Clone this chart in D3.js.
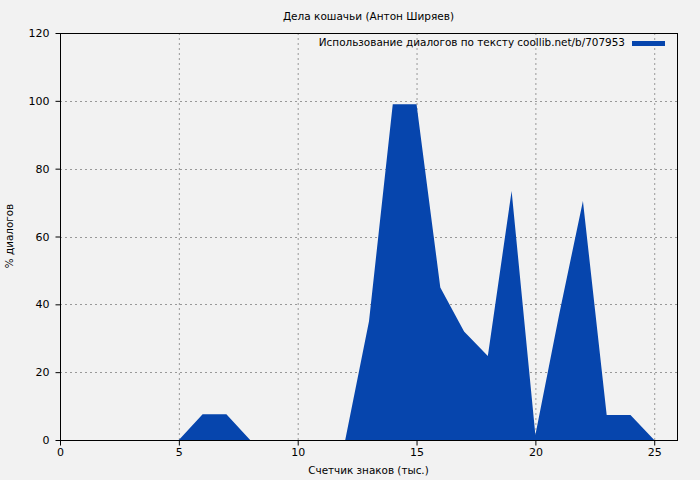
<!DOCTYPE html>
<html><head><meta charset="utf-8">
<script src="https://cdn.jsdelivr.net/npm/d3@7"></script>
<style>
body{margin:0;background:#f2f2f2;}
text{font-family:"DejaVu Sans",sans-serif;fill:#000;}
</style></head>
<body><svg id="c" width="700" height="480"></svg>
<script>
const xValues = [0,1,2,3,4,5,6,7,8,9,10,11,12,13,14,15,16,17,18,19,20,21,22,23,24,25];
const yValues = [0,0,0,0,0,0,7.6,7.6,0,0,0,0,0,35,99,99,45,32,24.8,73.4,1.5,37,70.5,7.4,7.4,0];
const xTicks = [0,5,10,15,20,25];
const yTicks = [0,20,40,60,80,100,120];
const title = "Дела кошачьи (Антон Ширяев)";
const xLabel = "Счетчик знаков (тыс.)";
const yLabel = "% диалогов";
const legendLabel = "Использование диалогов по тексту coollib.net/b/707953";

const W=700,H=480, L=60,R=678,T=33,B=440;
const svg=d3.select("#c");
svg.append("rect").attr("width",W).attr("height",H).attr("fill","#f2f2f2");
const x=d3.scaleLinear().domain([0,26]).range([L,R]);
const y=d3.scaleLinear().domain([0,120]).range([B,T]);

const g=svg.append("g");
// grid
g.selectAll(".gx").data(xTicks.filter(d=>d>0)).join("line")
 .attr("x1",d=>x(d)+0.5).attr("x2",d=>x(d)+0.5).attr("y1",T).attr("y2",B)
 .attr("stroke","#999").attr("stroke-dasharray","2,3");
g.selectAll(".gy").data(yTicks.filter(d=>d>0&&d<120)).join("line")
 .attr("y1",d=>Math.round(y(d))+0.5).attr("y2",d=>Math.round(y(d))+0.5).attr("x1",L).attr("x2",R)
 .attr("stroke","#999").attr("stroke-dasharray","2,3");

// area
const data=xValues.map((v,i)=>[v,yValues[i]]);
g.append("path").datum(data)
 .attr("d",d3.area().x(d=>x(d[0])).y0(y(0)).y1(d=>y(d[1])))
 .attr("fill","#0645ad");

// axes
const xa=svg.append("g").attr("transform",`translate(0,${B+0.5})`)
 .call(d3.axisBottom(x).tickValues(xTicks).tickSize(5).tickPadding(3).tickFormat(d3.format("d")));
const ya=svg.append("g").attr("transform",`translate(${L+0.5},0)`)
 .call(d3.axisLeft(y).tickValues(yTicks).tickSize(5).tickPadding(6).tickFormat(d3.format("d")));
[xa,ya].forEach(a=>{a.select(".domain").remove();a.selectAll("text").attr("font-size",11).attr("font-family","DejaVu Sans");a.selectAll("line").attr("stroke","#000");});

// frame
svg.append("rect").attr("x",L+0.5).attr("y",T+0.5).attr("width",R-L-1).attr("height",B-T)
 .attr("fill","none").attr("stroke","#000");

// texts
svg.append("text").attr("x",368.5).attr("y",20).attr("text-anchor","middle").attr("font-size",10.5).text(title);
svg.append("text").attr("x",368.5).attr("y",474).attr("text-anchor","middle").attr("font-size",10.4).text(xLabel);
svg.append("text").attr("transform","translate(12.5,236) rotate(-90)").attr("text-anchor","middle").attr("font-size",10.4).text(yLabel);
svg.append("text").attr("x",625).attr("y",46).attr("text-anchor","end").attr("font-size",10.43).text(legendLabel);
svg.append("rect").attr("x",632).attr("y",41).attr("width",33).attr("height",5).attr("fill","#0645ad");
</script></body></html>
